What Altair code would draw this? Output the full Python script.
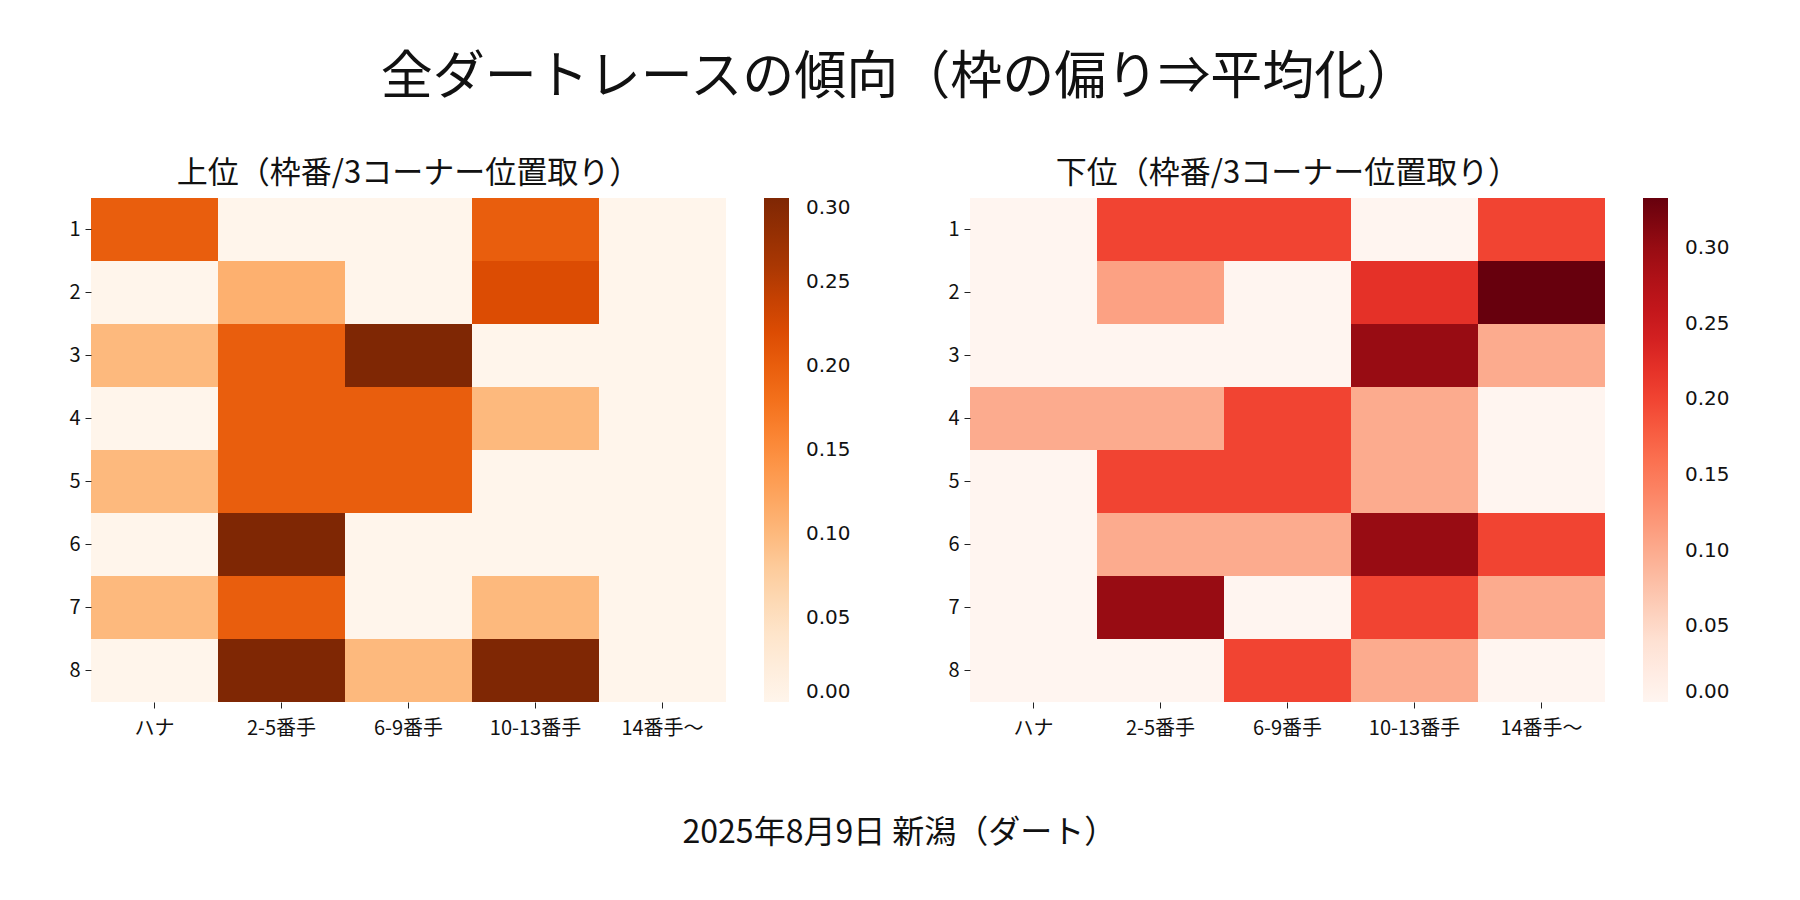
import numpy as np
import pandas as pd
import altair as alt

# Column / row labels
positions = ["ハナ", "2-5番手", "6-9番手", "10-13番手", "14番手〜"]
gates = [1, 2, 3, 4, 5, 6, 7, 8]

# 上位 (top finishers) share by gate / 3rd-corner position
top_values = [
    [0.20, 0.00, 0.00, 0.20, 0.00],
    [0.00, 0.11, 0.00, 0.22, 0.00],
    [0.10, 0.20, 0.30, 0.00, 0.00],
    [0.00, 0.20, 0.20, 0.10, 0.00],
    [0.10, 0.20, 0.20, 0.00, 0.00],
    [0.00, 0.30, 0.00, 0.00, 0.00],
    [0.10, 0.20, 0.00, 0.10, 0.00],
    [0.00, 0.30, 0.10, 0.30, 0.00],
]

# 下位 (bottom finishers)
bottom_values = [
    [0.00, 0.20, 0.20, 0.00, 0.20],
    [0.00, 0.11, 0.00, 0.22, 0.333],
    [0.00, 0.00, 0.00, 0.30, 0.10],
    [0.10, 0.10, 0.20, 0.10, 0.00],
    [0.00, 0.20, 0.20, 0.10, 0.00],
    [0.00, 0.10, 0.10, 0.30, 0.20],
    [0.00, 0.30, 0.00, 0.20, 0.10],
    [0.00, 0.00, 0.20, 0.10, 0.00],
]

legend_ticks = [0.0, 0.05, 0.10, 0.15, 0.20, 0.25, 0.30]

ORANGES = ['#fff5eb', '#fee6ce', '#fdd0a2', '#fdae6b', '#fd8d3c',
           '#f16913', '#d94801', '#a63603', '#7f2704']
REDS = ['#fff5f0', '#fee0d2', '#fcbba1', '#fc9272', '#fb6a4a',
        '#ef3b2c', '#cb181d', '#a50f15', '#67000d']

# whole-pixel cells (127 x 63) so no hairline seams show between rects
W, H = 635, 504
JP = 'Noto Sans CJK JP'


def to_long(values):
    rows = []
    for g, vals in zip(gates, values):
        for p, v in zip(positions, vals):
            rows.append({'gate': g, 'pos': p, 'value': v})
    return pd.DataFrame(rows)


def heatmap(values, title, colors):
    df = to_long(values)
    vmax = df['value'].max()
    domain = list(np.linspace(0, vmax, len(colors)))
    return alt.Chart(df).mark_rect().encode(
        x=alt.X('pos:N', sort=positions, title=None,
                scale=alt.Scale(paddingInner=0, paddingOuter=0),
                axis=alt.Axis(labelAngle=0, labelPadding=10)),
        y=alt.Y('gate:O', sort=gates, title=None,
                scale=alt.Scale(paddingInner=0, paddingOuter=0),
                axis=alt.Axis(labelPadding=5)),
        color=alt.Color('value:Q',
                        scale=alt.Scale(domain=domain, range=colors, interpolate='rgb'),
                        legend=alt.Legend(title=None, type='gradient', direction='vertical',
                                          orient='right', gradientLength=H,
                                          gradientThickness=25, gradientStrokeWidth=0,
                                          offset=38, values=legend_ticks, format='.2f',
                                          labelFont='DejaVu Sans', labelFontSize=20,
                                          labelColor='#111', labelBaseline='middle',
                                          labelOffset=17, labelOverlap=False)),
        tooltip=['gate', 'pos', 'value']
    ).properties(
        width=W, height=H,
        title=alt.TitleParams(title, frame='group', anchor='middle', fontSize=31,
                              fontWeight='normal', font=JP, color='#111', offset=8)
    )


left = heatmap(top_values, '上位（枠番/3コーナー位置取り）', ORANGES)
right = heatmap(bottom_values, '下位（枠番/3コーナー位置取り）', REDS)

row = alt.hconcat(
    left, right, spacing=96,
    title=alt.TitleParams('2025年8月9日 新潟（ダート）', orient='bottom', anchor='middle',
                          fontSize=32, fontWeight='normal', font=JP, color='#111', offset=80)
).resolve_scale(color='independent')

chart = alt.vconcat(
    row,
    title=alt.TitleParams('全ダートレースの傾向（枠の偏り⇒平均化）', anchor='middle',
                          fontSize=52, fontWeight='normal', font=JP, color='#111', offset=53)
).resolve_scale(color='independent').properties(
    padding={'left': 60, 'top': 44, 'right': 5, 'bottom': 5}
).configure_axis(
    labelFont=JP, labelFontSize=20, labelColor='#111',
    tickColor='#222', tickSize=6, domain=False, grid=False
).configure_view(stroke=None)

chart.save("out.html", embed_options={"renderer": "svg", "actions": False})
